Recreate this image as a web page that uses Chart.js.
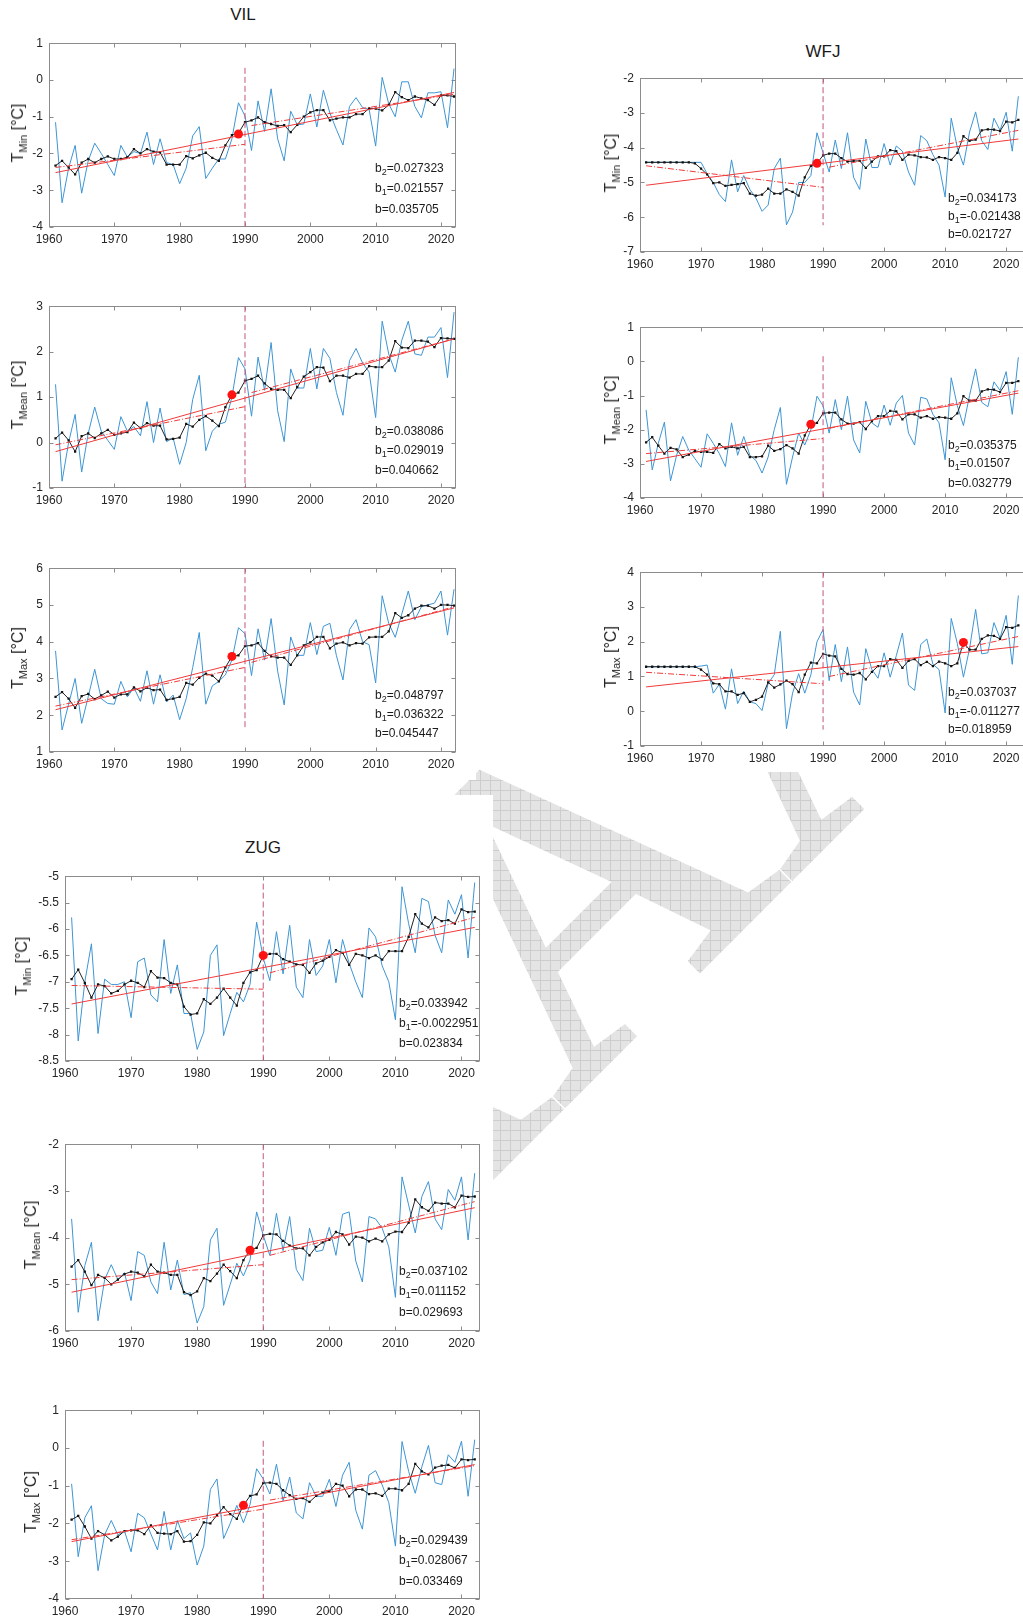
<!DOCTYPE html>
<html>
<head>
<meta charset="utf-8">
<script src="https://cdn.jsdelivr.net/npm/chart.js@4.4.0/dist/chart.umd.min.js"></script>
<style>
body{margin:0;width:1023px;height:1620px;overflow:hidden;background:#fff;position:relative;font-family:Arial,"Liberation Sans",sans-serif;}
canvas{position:absolute}
.cover{position:absolute;background:#fff}
.ttl{position:absolute;font-size:17px;color:#1a1a1a;transform:translate(-50%,-50%)}
.ylab{position:absolute;font-size:16px;color:#262626;white-space:nowrap;transform:translate(-50%,-50%) rotate(-90deg)}
.ylab sub{font-size:11px;vertical-align:-4px;line-height:0}
.coef{position:absolute;font-size:12px;color:#1a1a1a;white-space:nowrap;line-height:14px}
.coef sub{font-size:9px;vertical-align:-3px;line-height:0}
</style>
</head>
<body>
<canvas id="wm" width="1023" height="1620" style="left:0;top:0"></canvas>
<div class="cover" style="left:0;top:0;width:476px;height:780px"></div>
<div class="cover" style="left:610px;top:0;width:413px;height:772px"></div>
<div class="cover" style="left:0;top:795px;width:493px;height:825px"></div>
<script>
// years and axis ticks
var years = [1961,1962,1963,1964,1965,1966,1967,1968,1969,1970,
	1971,1972,1973,1974,1975,1976,1977,1978,1979,1980,
	1981,1982,1983,1984,1985,1986,1987,1988,1989,1990,
	1991,1992,1993,1994,1995,1996,1997,1998,1999,2000,
	2001,2002,2003,2004,2005,2006,2007,2008,2009,2010,
	2011,2012,2013,2014,2015,2016,2017,2018,2019,2020,
	2021,2022];
var xTicks = [1960,1970,1980,1990,2000,2010,2020];
var trendYears = [1961, 2022];
var trendYearsA = [1961, 1990];
var trendYearsB = [1991, 2022];
var breakYear = 1990;

// VIL
var vilMinAnnual = [-1.15,-3.34,-2.4,-1.78,-3.08,-2.2,-1.72,-2.0,-2.3,-2.6,
	-1.78,-2.1,-1.95,-2.0,-1.42,-2.3,-1.6,-2.25,-2.3,-2.82,
	-2.4,-1.52,-1.27,-2.68,-2.4,-2.15,-2.15,-1.6,-0.62,-0.98,
	-1.92,-0.57,-1.4,-0.24,-1.6,-2.2,-0.85,-1.22,-1.2,-0.38,
	-1.28,-0.28,-0.9,-1.35,-1.77,-0.72,-0.48,-0.75,-0.8,-1.8,
	0.07,-0.65,-1.0,-0.05,-0.05,-0.72,-1.03,-0.35,-0.35,-0.32,
	-1.3,0.31];
var vilMinSmooth = [-2.33,-2.2,-2.38,-2.57,-2.25,-2.15,-2.25,-2.15,-2.08,-2.15,
	-2.15,-2.1,-1.88,-2.0,-1.88,-1.95,-1.97,-2.3,-2.3,-2.3,
	-2.07,-2.13,-2.05,-1.98,-2.12,-2.2,-1.78,-1.5,-1.45,-1.15,
	-1.1,-1.02,-1.15,-1.2,-1.25,-1.23,-1.42,-1.22,-1.0,-0.88,
	-0.82,-0.82,-1.1,-1.05,-1.02,-1.02,-0.93,-0.93,-0.77,-0.78,
	-0.83,-0.68,-0.33,-0.47,-0.55,-0.45,-0.5,-0.55,-0.68,-0.42,
	-0.42,-0.45];
var vilMinTrend = [-2.52,-0.34], vilMinTrendA = [-2.38,-1.75], vilMinTrendB = [-1.24,-0.39];
var vilMinBreak = [1989,-1.47], vilMinVline = [0.33,-4];
var vilMinCoef = ['0.027323','0.021557','0.035705'];
var vilMinTicks = [-4,-3,-2,-1,0,1];

var vilMeanAnnual = [1.28,-0.85,0.0,0.62,-0.65,0.2,0.78,0.25,0.05,-0.15,
	0.57,0.25,0.35,0.15,0.9,0.0,0.76,0.02,0.1,-0.48,
	0.0,0.95,1.48,-0.18,0.25,0.4,0.45,1.0,1.87,1.62,
	0.58,1.88,1.15,2.2,0.7,0.02,1.62,1.2,1.2,2.07,
	1.18,2.07,1.85,1.1,0.6,1.8,2.07,1.75,1.55,0.55,
	2.67,1.95,1.55,2.25,2.67,1.95,1.92,2.32,2.32,2.53,
	1.43,2.87];
var vilMeanSmooth = [0.09,0.22,0.05,-0.2,0.14,0.2,0.1,0.2,0.28,0.17,
	0.2,0.23,0.44,0.32,0.43,0.37,0.37,0.07,0.08,0.11,
	0.41,0.35,0.5,0.58,0.48,0.36,0.78,1.05,1.1,1.36,
	1.4,1.47,1.3,1.18,1.16,1.16,0.98,1.22,1.45,1.55,
	1.66,1.65,1.35,1.47,1.47,1.43,1.51,1.51,1.68,1.66,
	1.66,1.8,2.23,2.09,2.08,2.24,2.24,2.22,2.1,2.3,
	2.29,2.28];
var vilMeanTrend = [-0.2,2.28], vilMeanTrendA = [-0.05,0.79], vilMeanTrendB = [1.1,2.28];
var vilMeanBreak = [1988,1.05], vilMeanVline = [3,-1];
var vilMeanCoef = ['0.038086','0.029019','0.040662'];
var vilMeanTicks = [-1,0,1,2,3];

var vilMaxAnnual = [3.75,1.6,2.3,3.0,1.78,2.5,3.25,2.45,2.32,2.3,
	2.92,2.5,2.75,2.38,3.21,2.3,3.1,2.36,2.55,1.88,
	2.45,3.3,4.25,2.3,2.8,2.92,3.1,3.5,4.38,4.22,
	3.08,4.35,3.5,4.63,3.2,2.28,4.13,3.63,3.63,4.52,
	3.65,4.42,4.5,3.62,2.96,4.33,4.6,4.0,3.92,2.88,
	5.25,4.5,4.12,4.75,5.38,4.6,4.95,5.0,5.05,5.38,
	4.18,5.43];
var vilMaxSmooth = [2.5,2.63,2.45,2.2,2.52,2.58,2.44,2.54,2.64,2.48,
	2.57,2.57,2.76,2.65,2.75,2.68,2.7,2.42,2.45,2.5,
	2.88,2.83,3.02,3.13,3.08,2.92,3.3,3.6,3.63,3.88,
	3.9,3.96,3.75,3.6,3.57,3.57,3.37,3.63,3.9,3.98,
	4.13,4.13,3.82,3.95,3.98,3.9,3.96,3.95,4.12,4.13,
	4.13,4.28,4.78,4.65,4.72,4.9,4.98,4.98,4.9,5.0,
	5.0,4.98];
var vilMaxTrend = [2.15,4.92], vilMaxTrendA = [2.25,3.3], vilMaxTrendB = [3.44,4.95];
var vilMaxBreak = [1988,3.6], vilMaxVline = [6,1.62];
var vilMaxCoef = ['0.048797','0.036322','0.045447'];
var vilMaxTicks = [1,2,3,4,5,6];

// WFJ
var wfjMinAnnual = [-4.42,-4.42,-4.42,-4.42,-4.42,-4.42,-4.42,-4.42,-4.42,-4.42,
	-4.75,-5.0,-5.35,-5.55,-4.35,-5.27,-4.8,-5.2,-5.45,-5.83,
	-5.65,-4.6,-4.3,-6.22,-5.85,-5.0,-5.0,-4.8,-3.57,-4.15,
	-4.7,-3.78,-4.6,-3.57,-4.85,-5.2,-3.75,-4.57,-4.57,-3.88,
	-4.5,-3.95,-4.1,-4.7,-5.08,-3.65,-3.8,-4.2,-4.5,-5.42,
	-3.15,-4.0,-4.5,-3.55,-2.97,-3.8,-4.05,-3.15,-3.5,-2.98,
	-4.1,-2.52];
var wfjMinSmooth = [-4.42,-4.42,-4.42,-4.42,-4.42,-4.42,-4.42,-4.42,-4.45,-4.6,
	-4.77,-5.02,-5.0,-5.1,-5.07,-5.05,-5.02,-5.32,-5.38,-5.35,
	-5.18,-5.32,-5.32,-5.2,-5.27,-5.38,-4.85,-4.52,-4.45,-4.22,
	-4.17,-4.17,-4.3,-4.4,-4.38,-4.38,-4.58,-4.4,-4.25,-4.25,
	-4.07,-4.1,-4.35,-4.2,-4.22,-4.27,-4.28,-4.35,-4.27,-4.3,
	-4.35,-4.15,-3.67,-3.8,-3.77,-3.5,-3.47,-3.48,-3.52,-3.25,
	-3.27,-3.2];
var wfjMinTrend = [-5.08,-3.75], wfjMinTrendA = [-4.52,-5.14], wfjMinTrendB = [-4.56,-3.5];
var wfjMinBreak = [1989,-4.45], wfjMinVline = [-2,-6.23];
var wfjMinCoef = ['0.034173','-0.021438','0.021727'];
var wfjMinTicks = [-7,-6,-5,-4,-3,-2];

var wfjMeanAnnual = [-1.42,-3.18,-2.4,-1.78,-3.5,-2.75,-2.2,-2.6,-2.85,-3.1,
	-2.12,-2.4,-2.7,-3.08,-1.8,-2.75,-2.2,-2.75,-2.9,-3.27,
	-2.8,-2.0,-1.35,-3.6,-2.8,-2.1,-2.45,-2.0,-1.02,-1.3,
	-2.1,-1.12,-2.0,-1.02,-2.3,-2.68,-1.17,-1.8,-1.93,-1.28,
	-1.87,-1.22,-1.0,-2.1,-2.45,-1.05,-1.1,-1.55,-1.8,-2.88,
	-0.48,-1.3,-1.88,-1.0,-0.22,-1.2,-1.33,-0.6,-0.85,-0.3,
	-1.55,0.12];
var wfjMeanSmooth = [-2.37,-2.22,-2.47,-2.7,-2.53,-2.58,-2.8,-2.73,-2.62,-2.65,
	-2.65,-2.68,-2.42,-2.55,-2.5,-2.55,-2.5,-2.8,-2.8,-2.78,
	-2.47,-2.62,-2.57,-2.45,-2.55,-2.7,-2.17,-1.84,-1.8,-1.52,
	-1.5,-1.5,-1.7,-1.82,-1.82,-1.78,-1.98,-1.75,-1.6,-1.6,
	-1.45,-1.47,-1.7,-1.55,-1.55,-1.65,-1.6,-1.68,-1.63,-1.65,
	-1.68,-1.52,-1.02,-1.15,-1.15,-0.88,-0.82,-0.83,-0.9,-0.63,
	-0.63,-0.58];
var wfjMeanTrend = [-2.93,-0.93], wfjMeanTrendA = [-2.7,-2.26], wfjMeanTrendB = [-1.96,-0.86];
var wfjMeanBreak = [1988,-1.84], wfjMeanVline = [0.15,-4];
var wfjMeanCoef = ['0.035375','0.01507','0.032779'];
var wfjMeanTicks = [-4,-3,-2,-1,0,1];

var wfjMaxAnnual = [1.28,1.28,1.28,1.28,1.28,1.28,1.28,1.28,1.28,1.3,
	1.33,0.52,0.78,0.06,1.22,0.22,0.58,0.27,0.22,0.02,
	0.8,1.05,2.3,-0.5,0.52,1.08,0.52,1.05,2.0,2.35,
	0.88,1.92,0.85,1.85,0.55,0.18,1.8,1.2,0.95,1.68,
	0.98,1.6,2.25,0.75,0.6,1.92,2.08,1.35,1.2,-0.05,
	2.67,1.95,0.98,1.8,2.93,1.65,1.68,2.55,2.1,2.76,
	1.35,3.33];
var wfjMaxSmooth = [1.28,1.28,1.28,1.28,1.28,1.28,1.28,1.28,1.28,1.2,
	1.05,0.8,0.78,0.57,0.57,0.47,0.52,0.27,0.33,0.42,
	0.83,0.68,0.77,0.88,0.78,0.55,1.05,1.4,1.38,1.65,
	1.6,1.58,1.22,1.07,1.05,1.1,0.92,1.13,1.3,1.3,
	1.5,1.48,1.25,1.45,1.5,1.33,1.42,1.3,1.43,1.38,
	1.3,1.38,1.98,1.77,1.77,2.08,2.18,2.17,2.08,2.42,
	2.4,2.47];
var wfjMaxTrend = [0.7,1.86], wfjMaxTrendA = [1.12,0.79], wfjMaxTrendB = [1.0,2.15];
var wfjMaxBreak = [2013,1.98], wfjMaxVline = [4,-0.53];
var wfjMaxCoef = ['0.037037','-0.011277','0.018959'];
var wfjMaxTicks = [-1,0,1,2,3,4];

// ZUG
var zugMinAnnual = [-5.78,-8.12,-7.0,-6.28,-7.98,-6.95,-7.05,-7.05,-7.0,-7.68,
	-6.62,-6.55,-7.25,-7.38,-6.2,-7.22,-6.68,-7.6,-7.6,-8.28,
	-7.95,-6.5,-6.3,-8.02,-7.6,-7.2,-7.38,-7.05,-5.87,-6.55,
	-6.98,-6.05,-6.85,-5.93,-7.1,-7.3,-6.2,-6.88,-6.7,-6.2,
	-7.02,-6.2,-6.65,-7.0,-7.3,-5.98,-6.15,-6.7,-7.0,-7.72,
	-5.2,-5.9,-6.45,-5.42,-5.48,-6.12,-6.45,-5.45,-5.72,-5.35,
	-6.55,-5.12];
var zugMinSmooth = [-6.95,-6.77,-7.02,-7.3,-7.05,-7.08,-7.22,-7.17,-7.05,-6.98,
	-7.02,-7.1,-6.8,-6.92,-6.93,-7.02,-7.05,-7.47,-7.62,-7.6,
	-7.33,-7.42,-7.3,-7.13,-7.3,-7.45,-7.02,-6.82,-6.78,-6.5,
	-6.47,-6.47,-6.57,-6.62,-6.67,-6.68,-6.83,-6.65,-6.6,-6.53,
	-6.4,-6.45,-6.68,-6.47,-6.5,-6.55,-6.5,-6.58,-6.42,-6.42,
	-6.42,-6.15,-5.72,-5.9,-5.97,-5.78,-5.85,-5.83,-5.9,-5.63,
	-5.68,-5.67];
var zugMinTrend = [-7.42,-5.97], zugMinTrendA = [-7.07,-7.14], zugMinTrendB = [-6.83,-5.78];
var zugMinBreak = [1990,-6.5], zugMinVline = [-5.14,-8.5];
var zugMinCoef = ['0.033942','-0.0022951','0.023834'];
var zugMinTicks = [-8.5,-8,-7.5,-7,-6.5,-6,-5.5,-5];

var zugMeanAnnual = [-3.6,-5.6,-4.6,-4.1,-5.78,-4.9,-4.58,-4.9,-4.75,-5.35,
	-4.3,-4.38,-4.95,-5.2,-4.1,-5.12,-4.48,-5.22,-5.18,-5.83,
	-5.48,-4.05,-3.8,-5.45,-5.0,-4.55,-4.82,-4.48,-3.45,-3.95,
	-4.38,-3.48,-4.28,-3.55,-4.68,-4.92,-3.8,-4.3,-4.27,-3.78,
	-4.38,-3.5,-3.45,-4.5,-4.95,-3.55,-3.6,-3.8,-4.2,-5.28,
	-2.7,-3.3,-3.9,-3.12,-2.8,-3.6,-3.83,-2.97,-3.2,-2.7,
	-4.05,-2.62];
var zugMeanSmooth = [-4.62,-4.48,-4.73,-5.02,-4.8,-4.86,-5.0,-4.9,-4.78,-4.73,
	-4.75,-4.83,-4.58,-4.73,-4.75,-4.8,-4.8,-5.17,-5.23,-5.15,
	-4.87,-4.93,-4.77,-4.58,-4.72,-4.87,-4.48,-4.27,-4.22,-3.95,
	-3.92,-3.93,-4.07,-4.17,-4.23,-4.23,-4.38,-4.2,-4.1,-4.05,
	-3.88,-3.93,-4.15,-3.98,-4.0,-4.08,-4.02,-4.08,-3.93,-3.87,
	-3.88,-3.68,-3.18,-3.35,-3.43,-3.25,-3.27,-3.27,-3.35,-3.1,
	-3.13,-3.12];
var zugMeanTrend = [-5.17,-3.36], zugMeanTrendA = [-4.9,-4.58], zugMeanTrendB = [-4.38,-3.23];
var zugMeanBreak = [1988,-4.27], zugMeanVline = [-2,-6];
var zugMeanCoef = ['0.037102','0.011152','0.029693'];
var zugMeanTicks = [-6,-5,-4,-3,-2];

var zugMaxAnnual = [-0.95,-2.88,-1.85,-1.53,-3.25,-2.3,-1.92,-2.3,-2.2,-2.75,
	-1.73,-1.85,-2.28,-2.7,-1.68,-2.7,-1.92,-2.4,-2.25,-3.1,
	-2.6,-1.1,-0.82,-2.4,-2.0,-1.52,-1.98,-1.5,-0.55,-0.82,
	-1.22,-0.43,-1.4,-0.77,-1.72,-1.88,-0.92,-1.28,-1.28,-0.83,
	-1.55,-0.72,-0.38,-1.65,-2.15,-0.72,-0.6,-0.98,-1.45,-2.6,
	0.17,-0.62,-1.2,-0.5,0.07,-0.92,-0.97,-0.18,-0.38,0.18,
	-1.28,0.22];
var zugMaxSmooth = [-1.9,-1.8,-2.08,-2.4,-2.2,-2.3,-2.45,-2.35,-2.2,-2.18,
	-2.18,-2.28,-2.05,-2.25,-2.27,-2.28,-2.2,-2.48,-2.47,-2.3,
	-1.97,-2.0,-1.78,-1.57,-1.75,-1.88,-1.52,-1.27,-1.23,-0.93,
	-0.92,-0.95,-1.12,-1.25,-1.35,-1.33,-1.43,-1.27,-1.18,-1.15,
	-0.95,-1.0,-1.28,-1.1,-1.1,-1.22,-1.2,-1.27,-1.08,-1.08,
	-1.12,-0.95,-0.42,-0.62,-0.7,-0.52,-0.47,-0.45,-0.53,-0.3,
	-0.32,-0.3];
var zugMaxTrend = [-2.48,-0.44], zugMaxTrendA = [-2.43,-1.62], zugMaxTrendB = [-1.38,-0.47];
var zugMaxBreak = [1987,-1.52], zugMaxVline = [0.19,-4];
var zugMaxCoef = ['0.029439','0.028067','0.033469'];
var zugMaxTicks = [-4,-3,-2,-1,0,1];

// watermark: a row of big serif A's, hatched, behind the figure panels
(function() {
	var tile = document.createElement('canvas');
	tile.width = 10; tile.height = 10;
	var t = tile.getContext('2d');
	t.fillStyle = '#e4e4e4';
	t.fillRect(0, 0, 10, 10);
	t.fillStyle = '#cdcdcd';
	t.fillRect(0, 0, 10, 1);
	t.fillRect(0, 0, 1, 10);
	var ctx = document.getElementById('wm').getContext('2d');
	ctx.save();
	ctx.translate(562, 1107);
	ctx.rotate(-Math.PI / 4);
	ctx.font = '445px "Liberation Serif", "DejaVu Serif", serif';
	ctx.fillStyle = '#000';
	ctx.strokeStyle = '#000';
	ctx.lineWidth = 6;
	var adv = ctx.measureText('A').width;
	ctx.fillText('AAAA', -adv, 0);
	ctx.strokeText('AAAA', -adv, 0);
	ctx.restore();
	ctx.globalCompositeOperation = 'source-in';
	ctx.fillStyle = ctx.createPattern(tile, 'repeat');
	ctx.fillRect(0, 0, 1023, 1620);
	ctx.globalCompositeOperation = 'source-over';
})();

function pts(xs, ys) {
	var out = [];
	for (var i = 0; i < xs.length; i++) out.push({x: xs[i], y: ys[i]});
	return out;
}

var boxPlugin = {
	id: 'matlabBox',
	beforeDatasetsDraw: function(chart) {
		var ctx = chart.ctx, a = chart.chartArea, sx = chart.scales.x, sy = chart.scales.y;
		ctx.save();
		ctx.strokeStyle = '#8c8c8c';
		ctx.lineWidth = 1;
		var l = Math.round(a.left) + 0.5, r = Math.round(a.right) - 0.5;
		var tp = Math.round(a.top) + 0.5, b = Math.round(a.bottom) - 0.5;
		ctx.strokeRect(l, tp, r - l, b - tp);
		ctx.beginPath();
		sx.ticks.forEach(function(tk) {
			var px = Math.round(sx.getPixelForValue(tk.value)) + 0.5;
			ctx.moveTo(px, b); ctx.lineTo(px, b - 4);
			ctx.moveTo(px, tp); ctx.lineTo(px, tp + 4);
		});
		sy.ticks.forEach(function(tk) {
			var py = Math.round(sy.getPixelForValue(tk.value)) + 0.5;
			ctx.moveTo(l, py); ctx.lineTo(l + 4, py);
			ctx.moveTo(r, py); ctx.lineTo(r - 4, py);
		});
		ctx.stroke();
		ctx.restore();
	}
};

var panels = [
	{annual: vilMinAnnual, smooth: vilMinSmooth, trend: vilMinTrend, trendA: vilMinTrendA, trendB: vilMinTrendB, brk: vilMinBreak, vline: vilMinVline, coef: vilMinCoef, yTicks: vilMinTicks, lab: 'Min',
	 box: [49, 38, 456, 227], xmax: 2022.3, ylabX: 18, coefX: 375, coefY: [168, 188, 209]},
	{annual: vilMeanAnnual, smooth: vilMeanSmooth, trend: vilMeanTrend, trendA: vilMeanTrendA, trendB: vilMeanTrendB, brk: vilMeanBreak, vline: vilMeanVline, coef: vilMeanCoef, yTicks: vilMeanTicks, lab: 'Mean',
	 box: [49, 301, 456, 488], xmax: 2022.3, ylabX: 18, coefX: 375, coefY: [431, 450, 470]},
	{annual: vilMaxAnnual, smooth: vilMaxSmooth, trend: vilMaxTrend, trendA: vilMaxTrendA, trendB: vilMaxTrendB, brk: vilMaxBreak, vline: vilMaxVline, coef: vilMaxCoef, yTicks: vilMaxTicks, lab: 'Max',
	 box: [49, 563, 456, 752], xmax: 2022.3, ylabX: 18, coefX: 375, coefY: [695, 714, 733]},
	{annual: wfjMinAnnual, smooth: wfjMinSmooth, trend: wfjMinTrend, trendA: wfjMinTrendA, trendB: wfjMinTrendB, brk: wfjMinBreak, vline: wfjMinVline, coef: wfjMinCoef, yTicks: wfjMinTicks, lab: 'Min',
	 box: [640, 73, 1033, 252], xmax: 2024.4, ylabX: 611, coefX: 948, coefY: [198, 216, 234]},
	{annual: wfjMeanAnnual, smooth: wfjMeanSmooth, trend: wfjMeanTrend, trendA: wfjMeanTrendA, trendB: wfjMeanTrendB, brk: wfjMeanBreak, vline: wfjMeanVline, coef: wfjMeanCoef, yTicks: wfjMeanTicks, lab: 'Mean',
	 box: [640, 322, 1033, 498], xmax: 2024.4, ylabX: 611, coefX: 948, coefY: [445, 463, 483]},
	{annual: wfjMaxAnnual, smooth: wfjMaxSmooth, trend: wfjMaxTrend, trendA: wfjMaxTrendA, trendB: wfjMaxTrendB, brk: wfjMaxBreak, vline: wfjMaxVline, coef: wfjMaxCoef, yTicks: wfjMaxTicks, lab: 'Max',
	 box: [640, 567, 1033, 746], xmax: 2024.4, ylabX: 611, coefX: 948, coefY: [692, 711, 729]},
	{annual: zugMinAnnual, smooth: zugMinSmooth, trend: zugMinTrend, trendA: zugMinTrendA, trendB: zugMinTrendB, brk: zugMinBreak, vline: zugMinVline, coef: zugMinCoef, yTicks: zugMinTicks, lab: 'Min',
	 box: [65, 871, 480, 1061], xmax: 2022.8, ylabX: 22, coefX: 399, coefY: [1003, 1023, 1043]},
	{annual: zugMeanAnnual, smooth: zugMeanSmooth, trend: zugMeanTrend, trendA: zugMeanTrendA, trendB: zugMeanTrendB, brk: zugMeanBreak, vline: zugMeanVline, coef: zugMeanCoef, yTicks: zugMeanTicks, lab: 'Mean',
	 box: [65, 1139, 480, 1331], xmax: 2022.8, ylabX: 31, coefX: 399, coefY: [1271, 1291, 1312]},
	{annual: zugMaxAnnual, smooth: zugMaxSmooth, trend: zugMaxTrend, trendA: zugMaxTrendA, trendB: zugMaxTrendB, brk: zugMaxBreak, vline: zugMaxVline, coef: zugMaxCoef, yTicks: zugMaxTicks, lab: 'Max',
	 box: [65, 1405, 480, 1599], xmax: 2022.8, ylabX: 31, coefX: 399, coefY: [1540, 1560, 1581]}
];

var titles = [['VIL', 243, 15], ['WFJ', 823, 52], ['ZUG', 263, 848]];

Chart.defaults.font.family = 'Arial, "Liberation Sans", sans-serif';
Chart.defaults.font.size = 12;
Chart.defaults.color = '#262626';

function addDiv(cls, html, left, top) {
	var d = document.createElement('div');
	d.className = cls;
	d.innerHTML = html;
	d.style.left = left + 'px';
	d.style.top = top + 'px';
	document.body.appendChild(d);
	return d;
}

panels.forEach(function(p) {
	var padL = Math.min(45, p.box[0]), padT = 8, padR = 8, padB = 24;
	var w = p.box[2] - p.box[0], h = p.box[3] - p.box[1];
	var cv = document.createElement('canvas');
	cv.width = w + padL + padR;
	cv.height = h + padT + padB;
	cv.style.left = (p.box[0] - padL) + 'px';
	cv.style.top = (p.box[1] - padT) + 'px';
	document.body.appendChild(cv);

	new Chart(cv.getContext('2d'), {
		type: 'line',
		data: {
			datasets: [{
				data: pts(years, p.annual),
				borderColor: '#3d95d4', borderWidth: 1, pointRadius: 0, order: 6
			}, {
				data: pts(years, p.smooth),
				borderColor: '#222', borderWidth: 1, pointRadius: 1.6, pointStyle: 'rect',
				pointBackgroundColor: '#111', pointBorderWidth: 0, order: 5
			}, {
				data: [{x: breakYear, y: p.vline[0]}, {x: breakYear, y: p.vline[1]}],
				borderColor: '#c4557e', borderWidth: 1, borderDash: [6, 3], pointRadius: 0, order: 4
			}, {
				data: pts(trendYears, p.trend),
				borderColor: '#f03a3a', borderWidth: 1, pointRadius: 0, order: 3
			}, {
				data: pts(trendYearsA, p.trendA),
				borderColor: '#f03a3a', borderWidth: 1, borderDash: [6, 2, 1, 2], pointRadius: 0, order: 2
			}, {
				data: pts(trendYearsB, p.trendB),
				borderColor: '#f03a3a', borderWidth: 1, borderDash: [6, 2, 1, 2], pointRadius: 0, order: 2
			}, {
				data: [{x: p.brk[0], y: p.brk[1]}],
				showLine: false, pointRadius: 4.5, pointBackgroundColor: '#ff1212', pointBorderWidth: 0, order: 0
			}]
		},
		options: {
			responsive: false,
			animation: false,
			events: [],
			layout: {padding: {top: padT, right: padR, left: 0, bottom: 0}},
			plugins: {legend: {display: false}, tooltip: {enabled: false}},
			scales: {
				x: {
					type: 'linear', min: 1960, max: p.xmax,
					grid: {display: false, drawTicks: false}, border: {display: false},
					ticks: {padding: 5, autoSkip: false, maxRotation: 0, callback: function(v) { return String(v); }},
					afterBuildTicks: function(s) { s.ticks = xTicks.map(function(v) { return {value: v}; }); },
					afterFit: function(s) { s.height = padB; }
				},
				y: {
					type: 'linear', min: p.yTicks[0], max: p.yTicks[p.yTicks.length - 1],
					grid: {display: false, drawTicks: false}, border: {display: false},
					ticks: {padding: 6, autoSkip: false, callback: function(v) { return String(v); }},
					afterBuildTicks: function(s) { s.ticks = p.yTicks.map(function(v) { return {value: v}; }); },
					afterFit: function(s) { s.width = padL; }
				}
			}
		},
		plugins: [boxPlugin]
	});

	addDiv('ylab', 'T<sub>' + p.lab + '</sub> [°C]', p.ylabX, (p.box[1] + p.box[3]) / 2);
	var names = ['b<sub>2</sub>=', 'b<sub>1</sub>=', 'b='];
	for (var i = 0; i < 3; i++) {
		addDiv('coef', names[i] + p.coef[i], p.coefX, p.coefY[i] - 7);
	}
});

titles.forEach(function(t) { addDiv('ttl', t[0], t[1], t[2]); });
</script>
</body>
</html>
